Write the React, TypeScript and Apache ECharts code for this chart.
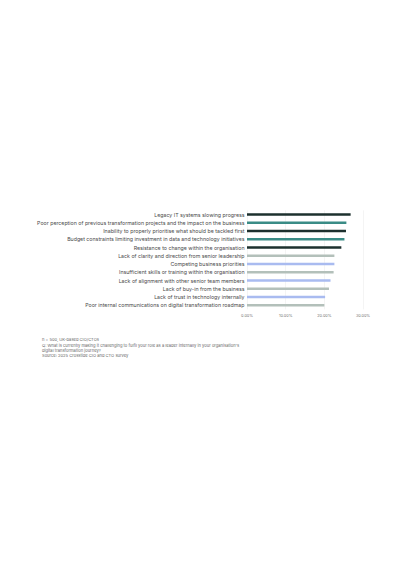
import React, { useRef, useEffect } from 'react';
import * as echarts from 'echarts';

// challenges, top to bottom
const challenges = [
    'Legacy IT systems slowing progress',
    'Poor perception of previous transformation projects and the impact on the business',
    'Inability to properly prioritise what should be tackled first',
    'Budget constraints limiting investment in data and technology initiatives',
    'Resistance to change within the organisation',
    'Lack of clarity and direction from senior leadership',
    'Competing business priorities',
    'Insufficient skills or training within the organisation',
    'Lack of alignment with other senior team members',
    'Lack of buy-in from the business',
    'Lack of trust in technology internally',
    'Poor internal communications on digital transformation roadmap'
];
const shares = [26.8, 25.7, 25.6, 25.2, 24.4, 22.6, 22.6, 22.4, 21.6, 21.2, 20.2, 20.0];
const barColors = [
    '#1d302e', '#3a8c86', '#1d302e', '#3a8c86', '#1d302e',
    '#b3c0ba', '#a9bbf0', '#b3c0ba', '#a9bbf0', '#b3c0ba', '#a9bbf0', '#b3c0ba'
];
const footnoteLines = [
    'n = 500, UK-based CIO/CTOs',
    "Q: What is currently making it challenging to fulfil your role as a leader internally in your organisation's",
    'digital transformation journey?',
    'Source: 2025 Crosstide CIO and CTO survey'
];

const FONT = 'Inter, "Noto Sans", sans-serif';

const App: React.FC = () => {
    const chartRef = useRef<HTMLDivElement>(null);

    useEffect(() => {
        if (!chartRef.current) return;
        const chart = echarts.init(chartRef.current, null, { renderer: 'svg' });

        chart.setOption({
            animation: false,
            backgroundColor: '#ffffff',
            grid: { left: 247, right: 37, top: 210.4, bottom: 256.6, containLabel: false },
            xAxis: {
                type: 'value',
                min: 0,
                max: 30,
                interval: 10,
                axisLine: { show: false },
                axisTick: { show: false },
                splitLine: { show: true, lineStyle: { color: '#ececec', width: 0.6 } },
                axisLabel: {
                    formatter: (v: number) => v.toFixed(2) + '%',
                    fontSize: 3.8,
                    color: '#777',
                    fontFamily: FONT,
                    margin: 4
                }
            },
            yAxis: {
                type: 'category',
                inverse: true,
                data: challenges,
                axisLine: { show: false },
                axisTick: { show: false },
                axisLabel: {
                    fontSize: 5.25,
                    color: '#4a4a4a',
                    fontFamily: FONT,
                    margin: 2.5
                }
            },
            series: [
                {
                    type: 'bar',
                    barWidth: 2.6,
                    data: shares.map((v, i) => ({ value: v, itemStyle: { color: barColors[i] } }))
                }
            ],
            graphic: [
                {
                    type: 'text',
                    left: 42,
                    top: 337.3,
                    style: {
                        text: footnoteLines.join('\n'),
                        fontSize: 4.1,
                        lineHeight: 5.2,
                        fill: '#666',
                        fontFamily: FONT
                    }
                }
            ]
        });

        return () => {
            chart.dispose();
        };
    }, []);

    return (
        <div
            ref={chartRef}
            style={{ position: 'fixed', left: 0, top: 0, width: '400px', height: '566px' }}
        />
    );
};

export default App;
